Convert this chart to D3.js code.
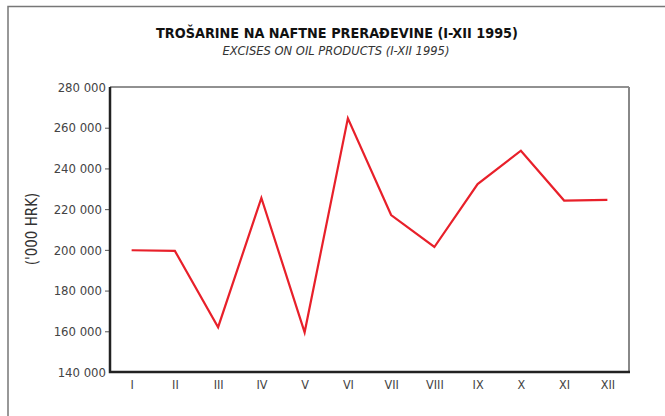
<!DOCTYPE html>
<html><head><meta charset="utf-8">
<script src="https://cdn.jsdelivr.net/npm/d3@7"></script>
<style>body{margin:0;background:#fff;} svg{display:block;}</style>
</head><body>
<svg id="c" width="665" height="416"></svg>
<script>
const months = ["I","II","III","IV","V","VI","VII","VIII","IX","X","XI","XII"];
const values = [199800, 199500, 162000, 225500, 159500, 264600, 217100, 201400, 232300, 248700, 224200, 224600];
const yTicks = [140000,160000,180000,200000,220000,240000,260000,280000];
const title = "TROŠARINE NA NAFTNE PRERAĐEVINE (I-XII 1995)";
const subtitle = "EXCISES ON OIL PRODUCTS (I-XII 1995)";
const yLabel = "('000 HRK)";

const svg = d3.select("#c");
const L=110, R=629, T=87, B=372;
const FF = "'DejaVu Sans Condensed','DejaVu Sans'";
const x = d3.scalePoint().domain(months).range([L,R]).padding(0.5);
const y = d3.scaleLinear().domain([140000,280000]).range([B,T]);
const fmt = d => d3.format(",")(d).replace(/,/g," ");

// outer frame
svg.append("path").attr("d","M8,416V6.5H665").attr("fill","none").attr("stroke","#777").attr("stroke-width",1.5);

svg.append("text").attr("x",337).attr("y",38).attr("text-anchor","middle")
  .style("font-family",FF).style("font-weight","bold").style("font-size","14.3px").attr("fill","#111").text(title);
svg.append("text").attr("x",336).attr("y",55).attr("text-anchor","middle")
  .style("font-family",FF).style("font-style","italic").style("font-size","12.8px").attr("fill","#333").text(subtitle);

// plot frame top and right
svg.append("line").attr("x1",L).attr("x2",R).attr("y1",T).attr("y2",T).attr("stroke","#222").attr("stroke-width",1);
svg.append("line").attr("x1",R).attr("x2",R).attr("y1",T).attr("y2",B).attr("stroke","#888").attr("stroke-width",2);

// y axis
const ya = svg.append("g").attr("transform",`translate(${L},0)`)
  .call(d3.axisLeft(y).tickValues(yTicks).tickFormat(fmt).tickSize(5).tickPadding(3));
ya.select(".domain").remove();
ya.selectAll(".tick line").attr("stroke","#555");
ya.selectAll(".tick").filter(d=>d===140000||d===280000).select("line").remove();
ya.selectAll(".tick").filter(d=>d===140000||d===280000).select("text").attr("x",-4);
ya.selectAll("text").style("font-family",FF).style("font-size","13px").attr("fill","#444");

// x axis
const xa = svg.append("g").attr("transform",`translate(0,${B})`)
  .call(d3.axisBottom(x).tickSize(0).tickPadding(8));
xa.select(".domain").remove();
xa.selectAll("text").style("font-family",FF).style("font-size","12.5px").attr("fill","#444");

// thick axes lines
svg.append("path").attr("d",`M${L},${T}V${B}H${R+1}`).attr("fill","none").attr("stroke","#222").attr("stroke-width",2.5);

svg.append("text").attr("transform","translate(37,229) rotate(-90)").attr("text-anchor","middle")
  .style("font-family",FF).style("font-size","15px").attr("fill","#333").text(yLabel);

const line = d3.line().x((d,i)=>x(months[i])).y(d=>y(d));
svg.append("path").datum(values).attr("d",line).attr("fill","none").attr("stroke","#e8202a").attr("stroke-width",2.2).attr("stroke-linejoin","miter");
</script>
</body></html>
